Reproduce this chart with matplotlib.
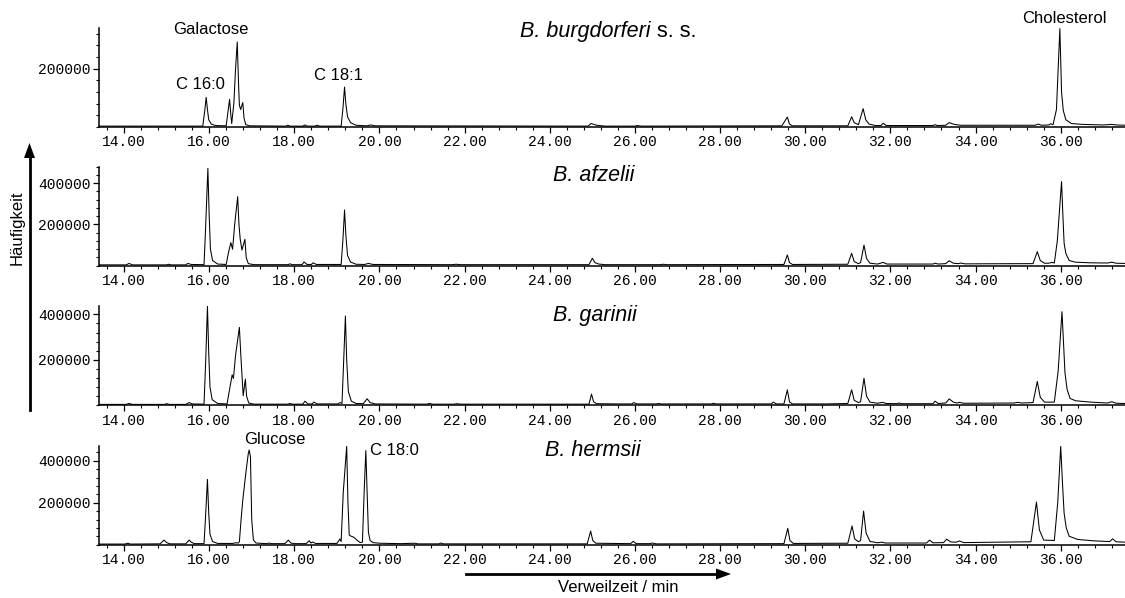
import matplotlib
matplotlib.use("Agg")
import matplotlib.pyplot as plt
from matplotlib.ticker import MultipleLocator, FixedLocator, FuncFormatter
from matplotlib.lines import Line2D
from matplotlib.patches import Polygon
from matplotlib.transforms import Affine2D

# ---------------- data (vertices) ----------------
titles_italic = ["B. burgdorferi", "B. afzelii", "B. garinii", "B. hermsii"]
titles_normal = [" s. s.", "", "", ""]
ymax = [340000, 480000, 437000, 470000]

t1 = [13.42, 15.85, 15.90, 15.93, 15.96, 15.99, 16.05, 16.15, 16.40, 16.44, 16.48, 16.51, 16.53,
      16.58, 16.62, 16.66, 16.69, 16.71, 16.74, 16.79, 16.82, 16.86, 16.95, 17.80, 17.85, 17.90,
      18.20, 18.25, 18.30, 18.48, 18.53, 18.60, 19.10, 19.14, 19.18, 19.21, 19.25, 19.32, 19.45,
      19.70, 19.80, 19.90, 24.90, 24.97, 25.10, 25.30, 26.00, 26.05, 26.15, 29.45, 29.58, 29.63,
      29.70, 31.00, 31.09, 31.15, 31.25, 31.36, 31.42, 31.50, 31.65, 31.78, 31.83, 31.90, 33.00,
      33.05, 33.10, 33.30, 33.38, 33.50, 33.65, 35.40, 35.47, 35.55, 35.72, 35.76, 35.82, 35.90,
      35.98, 36.02, 36.06, 36.12, 36.25, 36.50, 37.00, 37.20, 37.30, 37.51]
y1 = [3000, 3000, 60000, 102000, 60000, 25000, 10000, 5000, 4000, 50000, 95000, 40000, 12000,
      80000, 200000, 292000, 150000, 75000, 60000, 84000, 30000, 8000, 4000, 3000, 6000, 3000,
      3000, 7000, 3000, 3000, 6000, 3000, 3000, 60000, 137000, 80000, 35000, 15000, 6000,
      4000, 7000, 4000, 3000, 12000, 6000, 3000, 3000, 5000, 3000, 4000, 34000, 10000,
      4000, 4000, 35000, 15000, 8000, 63000, 25000, 10000, 5000, 5000, 13000, 5000, 5000,
      8000, 5000, 6000, 15000, 9000, 6000, 6000, 10000, 6000, 7000, 11000, 8000, 60000,
      338000, 120000, 57000, 25000, 12000, 9000, 7000, 9000, 7000, 6000]

t2 = [13.42, 14.05, 14.12, 14.20, 15.00, 15.05, 15.10, 15.45, 15.50, 15.58, 15.88, 15.92, 15.97,
      16.00, 16.03, 16.08, 16.20, 16.40, 16.45, 16.51, 16.55, 16.60, 16.67, 16.70, 16.73, 16.77,
      16.84, 16.87, 16.92, 17.05, 17.85, 17.90, 17.95, 18.18, 18.23, 18.30, 18.40, 18.44, 18.52,
      19.10, 19.14, 19.18, 19.21, 19.25, 19.32, 19.45, 19.65, 19.74, 19.85, 21.70, 21.80, 21.90,
      24.92, 25.00, 25.06, 25.15, 25.30, 26.60, 26.66, 26.75, 29.50, 29.58, 29.63, 29.70, 31.00,
      31.09, 31.15, 31.25, 31.30, 31.38, 31.44, 31.52, 31.70, 31.83, 31.92, 33.00, 33.05, 33.12,
      33.30, 33.38, 33.48, 33.60, 33.65, 33.75, 35.35, 35.45, 35.52, 35.62, 35.72, 35.79, 35.85,
      35.92, 36.02, 36.05, 36.08, 36.12, 36.20, 36.35, 36.70, 37.10, 37.20, 37.30, 37.51]
y2 = [4000, 4000, 11000, 4000, 4000, 7000, 4000, 4000, 11000, 6000, 5000, 200000, 472000,
      250000, 80000, 25000, 8000, 6000, 60000, 112000, 80000, 200000, 335000, 200000, 128000, 76000,
      128000, 40000, 10000, 5000, 5000, 9000, 5000, 5000, 18000, 6000, 6000, 14000, 6000,
      6000, 120000, 270000, 150000, 50000, 18000, 7000, 6000, 11000, 6000, 5000, 7000, 5000,
      5000, 36000, 15000, 8000, 5000, 5000, 7000, 5000, 6000, 52000, 15000, 6000, 7000,
      60000, 20000, 10000, 15000, 100000, 35000, 12000, 8000, 16000, 8000, 8000, 12000, 8000,
      10000, 24000, 12000, 10000, 13000, 9000, 10000, 68000, 25000, 12000, 12000, 16000, 13000,
      120000, 408000, 250000, 109000, 60000, 25000, 17000, 14000, 13000, 17000, 12000, 11000]

t3 = [13.42, 14.05, 14.12, 14.20, 14.95, 15.00, 15.06, 15.45, 15.53, 15.60, 15.88, 15.92, 15.96,
      15.99, 16.02, 16.07, 16.20, 16.42, 16.48, 16.54, 16.57, 16.62, 16.71, 16.75, 16.80, 16.85,
      16.88, 16.93, 17.05, 17.85, 17.90, 17.95, 18.20, 18.25, 18.32, 18.42, 18.46, 18.54, 19.02,
      19.08, 19.12, 19.15, 19.20, 19.23, 19.27, 19.34, 19.45, 19.62, 19.71, 19.78, 19.90, 21.10,
      21.18, 21.25, 21.75, 21.82, 21.90, 24.92, 24.98, 25.03, 25.10, 25.60, 25.93, 25.97, 26.05,
      26.50, 26.55, 26.62, 27.80, 27.84, 27.90, 29.20, 29.25, 29.32, 29.50, 29.58, 29.63, 29.70,
      30.50, 31.00, 31.09, 31.15, 31.25, 31.30, 31.38, 31.44, 31.52, 31.70, 31.82, 31.90, 32.15,
      32.20, 32.25, 33.00, 33.05, 33.12, 33.30, 33.38, 33.48, 33.56, 33.62, 33.72, 34.90, 35.00,
      35.08, 35.35, 35.45, 35.52, 35.62, 35.85, 35.94, 36.03, 36.07, 36.10, 36.15, 36.22, 36.35,
      36.70, 37.10, 37.20, 37.30, 37.51]
y3 = [4000, 4000, 8000, 4000, 4000, 7000, 4000, 4000, 12000, 6000, 5000, 200000, 436000,
      230000, 80000, 25000, 8000, 6000, 70000, 134000, 118000, 220000, 343000, 200000, 42000, 115000,
      40000, 10000, 5000, 5000, 8000, 5000, 5000, 18000, 6000, 6000, 14000, 6000, 6000,
      12000, 8000, 150000, 393000, 200000, 60000, 18000, 8000, 7000, 29000, 12000, 6000, 5000,
      8000, 5000, 5000, 7000, 5000, 5000, 49000, 15000, 7000, 6000, 6000, 12000, 6000,
      6000, 8000, 6000, 6000, 9000, 6000, 6000, 14000, 6000, 6000, 68000, 15000, 6000,
      6000, 8000, 68000, 22000, 12000, 16000, 119000, 40000, 14000, 9000, 13000, 8000, 7000,
      10000, 7000, 7000, 18000, 8000, 10000, 28000, 14000, 10000, 13000, 9000, 10000, 13000,
      10000, 12000, 105000, 35000, 14000, 14000, 150000, 412000, 260000, 143000, 70000, 30000, 20000,
      14000, 10000, 16000, 9000, 8000]

t4 = [13.42, 14.02, 14.09, 14.15, 14.85, 14.94, 15.00, 15.08, 15.45, 15.53, 15.58, 15.65, 15.88,
      15.92, 15.96, 15.99, 16.02, 16.08, 16.20, 16.55, 16.62, 16.68, 16.71, 16.75, 16.79, 16.87,
      16.92, 16.94, 16.97, 17.00, 17.04, 17.10, 17.35, 17.40, 17.45, 17.78, 17.86, 17.92, 18.00,
      18.28, 18.35, 18.39, 18.43, 18.50, 19.00, 19.07, 19.10, 19.15, 19.23, 19.26, 19.29, 19.32,
      19.40, 19.48, 19.55, 19.60, 19.64, 19.68, 19.71, 19.74, 19.78, 19.85, 20.00, 20.50, 20.83,
      20.90, 21.40, 21.44, 21.50, 24.88, 24.96, 25.01, 25.08, 25.90, 25.96, 26.03, 26.35, 26.41,
      26.50, 29.50, 29.59, 29.64, 29.72, 31.00, 31.10, 31.16, 31.25, 31.30, 31.37, 31.43, 31.52,
      31.70, 31.80, 31.88, 32.85, 32.92, 33.00, 33.25, 33.32, 33.42, 33.55, 33.62, 33.72, 35.30,
      35.43, 35.50, 35.60, 35.85, 35.93, 36.00, 36.04, 36.08, 36.13, 36.20, 36.40, 36.80, 37.15,
      37.22, 37.30, 37.51]
y4 = [3000, 3000, 7000, 3000, 4000, 22000, 10000, 4000, 4000, 22000, 12000, 5000, 5000,
      150000, 311000, 150000, 50000, 15000, 6000, 6000, 9000, 8000, 14000, 120000, 213000, 356000,
      435000, 451000, 419000, 118000, 22000, 8000, 5000, 8000, 5000, 5000, 22000, 8000, 5000,
      5000, 19000, 8000, 13000, 6000, 6000, 27000, 15000, 250000, 468000, 200000, 46000, 42000,
      35000, 20000, 10000, 12000, 250000, 448000, 250000, 60000, 20000, 10000, 7000, 5000, 7000,
      4000, 4000, 8000, 4000, 4000, 65000, 20000, 7000, 5000, 16000, 5000, 5000, 8000,
      4000, 5000, 78000, 20000, 6000, 7000, 89000, 28000, 14000, 20000, 160000, 55000, 16000,
      9000, 12000, 8000, 8000, 22000, 9000, 10000, 26000, 13000, 12000, 18000, 10000, 14000,
      203000, 70000, 22000, 20000, 200000, 468000, 300000, 150000, 80000, 40000, 25000, 18000, 15000,
      28000, 14000, 12000]

times = [t1, t2, t3, t4]
values = [y1, y2, y3, y4]

x_major = [14, 16, 18, 20, 22, 24, 26, 28, 30, 32, 34, 36]
y_major = [200000, 400000]
x_range = (13.413, 37.51)

# ---------------- layout (pixel positions) ----------------
W, H = 1125, 598
fig = plt.figure(figsize=(W / 100, H / 100), dpi=100)
px = Affine2D().scale(1 / W, -1 / H).translate(0, 1) + fig.transFigure

axes_tb = [(28, 127), (166.7, 265.7), (306, 405.3), (446, 544.7)]
left_px = 99
mono = "Liberation Mono"
sans = "Liberation Sans"

for i, (top, bot) in enumerate(axes_tb):
    ax = fig.add_axes([left_px / W, 1 - bot / H, (W - left_px) / W, (bot - top) / H])
    ax.plot(times[i], values[i], color="black", lw=0.75)
    ax.set_xlim(*x_range)
    ax.set_ylim(0, ymax[i])
    for s in ("top", "right"):
        ax.spines[s].set_visible(False)
    for s in ("left", "bottom"):
        ax.spines[s].set_linewidth(1.1)
    ax.xaxis.set_major_locator(FixedLocator(x_major))
    ax.xaxis.set_minor_locator(MultipleLocator(0.4))
    ax.xaxis.set_major_formatter(FuncFormatter(lambda v, p: f"{v:.2f}"))
    ax.yaxis.set_major_locator(FixedLocator(y_major))
    ax.yaxis.set_minor_locator(MultipleLocator(40000))
    ax.yaxis.set_major_formatter(FuncFormatter(lambda v, p: f"{int(v)}"))
    ax.tick_params(axis="x", which="major", direction="out", length=4, width=0.9, pad=2)
    ax.tick_params(axis="x", which="minor", direction="out", length=2.2, width=0.8)
    ax.tick_params(axis="y", which="major", direction="out", length=4, width=0.9, pad=2)
    ax.tick_params(axis="y", which="minor", direction="out", length=2.2, width=0.8)
    for lab in ax.get_xticklabels() + ax.get_yticklabels():
        lab.set_fontfamily(mono)
        lab.set_fontsize(10.5)
    ax.patch.set_alpha(0)

# titles
title_pos = [(651, 37), (594, 180.7), (595, 320.7), (593, 455.7)]
for i, (x, y) in enumerate(title_pos):
    if titles_normal[i]:
        fig.text(x, y, titles_italic[i], transform=px, ha="right", va="baseline",
                 fontsize=15.5, fontstyle="italic", family=sans)
        fig.text(x, y, titles_normal[i], transform=px, ha="left", va="baseline",
                 fontsize=15.5, family=sans)
    else:
        fig.text(x, y, titles_italic[i], transform=px, ha="center", va="baseline",
                 fontsize=15.5, fontstyle="italic", family=sans)

# peak labels
labels = [("Galactose", 211, 34, "center"), ("C 16:0", 200, 89.3, "center"),
          ("C 18:1", 338, 80, "center"), ("Cholesterol", 1064, 22.7, "center"),
          ("Glucose", 275, 444, "center"), ("C 18:0", 370.5, 455, "left")]
for txt, x, y, ha in labels:
    fig.text(x, y, txt, transform=px, ha=ha, va="baseline", fontsize=12, family=sans)

# axis labels with arrows
fig.text(17, 228, "Häufigkeit", transform=px, rotation=90, ha="center", va="center",
         fontsize=12, family=sans)
fig.text(618, 591.7, "Verweilzeit / min", transform=px, ha="center", va="baseline",
         fontsize=12, family=sans)

fig.add_artist(Line2D([29.5, 29.5], [410, 156], transform=px, color="black", lw=2))
fig.add_artist(Polygon([[29.5, 143], [24, 158], [35, 158]], closed=True, transform=px,
                       color="black", lw=0))
fig.add_artist(Line2D([466, 718], [574, 574], transform=px, color="black", lw=2))
fig.add_artist(Polygon([[731, 574], [716, 568.5], [716, 579.5]], closed=True, transform=px,
                       color="black", lw=0))

fig.savefig("out.png", dpi=100)
